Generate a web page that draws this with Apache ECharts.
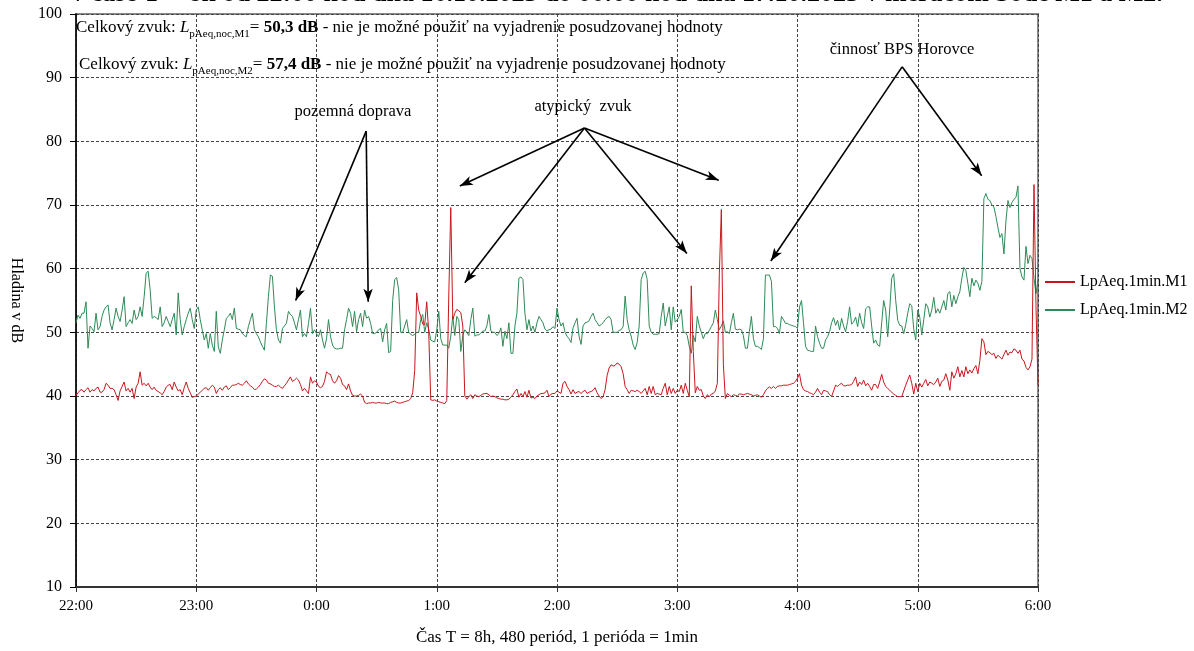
<!DOCTYPE html>
<html>
<head>
<meta charset="utf-8">
<script src="https://cdn.jsdelivr.net/npm/echarts@6/dist/echarts.min.js"></script>
<style>
html,body{margin:0;padding:0;background:#fff;overflow:hidden;}
#chart{width:1194px;height:651px;}
</style>
</head>
<body>
<div id="chart"></div>
<script>
// time tick labels (every 60 minutes)
const tickLabels = ['22:00','23:00','0:00','1:00','2:00','3:00','4:00','5:00','6:00'];
const seriesNames = ['LpAeq.1min.M1','LpAeq.1min.M2'];

// LpAeq.1min.M1 – one value per minute (0..480)
const M1 = [
40.1,40.5,40.9,41,40.6,41,41.3,40.6,41,40.8,
41.2,41.4,40.6,40.6,41,42,41.7,41.2,41.2,41,
40.2,39.3,40.8,41.5,42.2,40.8,41.2,40.6,41.2,39.6,
41.4,42,43.8,41.7,42,41.6,42,41.4,41,41.4,
40.9,40.7,40.5,40.2,40.7,41.4,41.7,41.8,41,42.2,
41.4,40.8,41,40.2,41.3,42.2,41.2,40.5,39.8,39.9,
40,40.3,40.6,40.9,41.2,41.3,40.9,41.3,41.7,41.4,
40.4,41,41.3,40.9,41.4,41.6,41,41.3,41.7,41.7,
41.8,42,41.8,41.7,42,42.4,41.9,41.6,41.4,41,
41.1,41.4,41.8,42.3,42.7,42.5,42,41.9,41.7,41.5,
41.5,41.7,41.4,41.2,41.6,42,42.5,43,42.3,42.5,
42.8,42.5,41.8,40.8,41.2,40.8,40.4,43,42,42.4,
42.2,41.5,41.3,41.5,42.3,43.8,43.5,43.4,42.4,42,
42.4,43.2,42.8,41.8,41.6,41,41.9,40.8,40.1,40,
40,40.1,40.3,40,39,38.8,38.9,38.9,39,38.9,
38.9,39,38.9,38.9,38.9,38.8,38.8,39,39.1,39.2,
39,38.9,38.9,39,39.1,39.2,39.3,39.6,40.5,44,
56.2,53.5,52.5,51.3,51.2,54.8,50,39.4,39.3,39.4,
39.2,39.1,39,38.9,38.8,39.3,55.7,69.6,52,53,
53.6,53.4,53.1,51,40,39.5,39.9,40.2,39.6,40.2,
40,39.9,40.1,40.3,40.4,40.4,40.2,39.9,40,39.9,
39.7,39.6,39.5,39.5,39.4,39.4,39.5,39.8,40.2,40.7,
41.1,39.8,40.4,39.9,40.7,39.8,40.9,39.7,39.8,39.6,
40,40.2,40.4,40.4,40.5,40.9,39.9,40.3,40.4,40.4,
40.8,40.6,40.4,42,42.3,41.5,41,40.3,41,40.4,
40.6,40.7,40.4,40.7,40.9,40.4,40.6,40.7,40.9,41.3,
40.5,40,39.6,39.9,41,43.2,44.4,44.9,44.7,44.8,
45.2,45,44.6,43.5,41.5,41,40.4,40.9,40.8,40.7,
40.9,40.7,40.4,40.8,41.2,40.2,41.5,40.4,41.5,40.2,
40.4,40.3,40.2,41.2,42,40.2,41.5,40.4,41.2,40.4,
40.9,40.7,41.7,40.4,42,40.9,39.9,57.3,47,40.5,
41.5,40.9,41,40,39.6,40.2,39.9,40.3,40.4,40.8,
42,59.2,69.3,45,39.6,40.4,40.1,39.9,40.2,40.1,
40,40.3,40.3,40.2,40.3,40.4,40.3,40.2,40,40.1,
40.2,40,39.8,40.2,40.8,41.2,41.4,41.2,41.5,41.2,
41.5,41.6,41.6,41.7,41.7,41.7,41.8,41.9,42,42.3,
42.8,43.5,41.7,41,40.8,40.7,40.5,40.4,40.2,40.6,
41.2,40.6,40.2,40.9,40.8,40.7,40.2,39.9,40.8,41.7,
41.5,41.8,42,41.6,41.6,41.7,41.7,41.8,42.3,43,
41.5,42.2,41.8,42.5,41.6,42,41.5,40.9,41.8,41.8,
41.2,42.2,43.4,42.2,41.5,41.2,40.9,40.6,40.3,40.1,
39.9,39.9,39.9,40.8,41.7,42.5,43.3,42,40.3,42,
40.7,42,41.4,42,42.6,41.6,42.2,42,41.8,42.2,
42.8,41.5,42.3,42.5,43.5,42.5,40.9,43.8,42.8,43.5,
44.6,43,44,43,44.6,43.5,44.1,43.6,44.3,44.8,
43.5,45.6,49,48.5,46.5,47,46.8,46.5,46.7,45.9,
46.4,46.1,45.8,46.5,47.2,46.4,46.9,46.8,47.4,47.2,
46.7,47.2,45.8,45.5,44.5,44.1,44.6,45.8,73.2,54,41.7
];

// LpAeq.1min.M2 – one value per minute (0..480)
const M2 = [
51.5,52.7,52.2,53,53,54.8,47.5,51,50.6,50.1,
53,50.4,50.9,52.5,53.5,54,54.3,51.5,50.4,52,
53.8,52.5,51.7,53.5,55.6,50.9,51.5,52,51.4,53.5,
52,52.5,54,52.5,55.6,59.3,59.6,56.7,52.2,52.5,
52.3,52,54,50.9,51.5,52.5,51.7,50.9,52,53,
49.6,56.2,52,49.6,50.9,52,53,53.8,52,50.6,
53.5,54,52,50.4,48.8,49.8,47.5,49.8,48,47,
53.3,47.7,46.7,48.8,50.4,52.2,52.5,53,52,53.8,
50.6,50.5,50.4,49.8,49.5,49.3,50.9,52,53,50.4,
49.8,49.3,48.5,47.8,47.2,51.4,55.6,59,58.8,54,
50.4,48.8,48.3,50.6,51,51.4,53.3,52.8,52.5,51.5,
50.4,52,53.5,49.3,49.8,49.3,51.4,53.8,49.8,50.4,
49.8,49.3,50.4,48.8,47.5,49,52,49.3,48,47.5,
47.4,47.4,47.5,47.5,50.4,52,53.8,53,50.9,53.3,
50.1,52,53,50.9,53.5,52.2,52.5,51.4,49.8,49.8,
50,50.4,50.6,48.5,50.4,51.4,46.8,47,55,58.3,
58.6,56.7,50,50,51,52,50,49.7,49.5,49.7,
50,50,52,52.8,50,51.5,50.5,48.8,48.6,48.5,
50.4,53.3,49,48,48,48,47.5,49.4,52.5,49.5,
52.5,52,47,49.5,50.4,50,49.5,52,53.8,49.4,
49.6,49.6,49.9,50.2,50.2,51,52.8,50.2,50,50,
49.5,49.8,50.7,47.8,50.2,49,51.5,46.7,46.7,51,
53,58.5,58.7,58.3,53,50.4,52,50.2,51,50,
51.5,52.5,52,51.5,50.5,50.2,50.4,50.5,50.9,50.6,
53.8,52,51,51.5,50,49.4,49,48.4,50.7,51.5,
52.2,49.4,48.1,51,51.5,51.6,51.8,52.5,53,52,
51.5,51,51.2,51.5,52,52.3,52.5,52,50,50,
50,50.3,50.4,50.9,55.7,52,50.4,49.4,48,47.3,
48.4,51,58.3,59.3,59.6,58.3,51,50,49.7,49.7,
49.7,49.8,52.5,54.6,51,52.5,54,50.4,54,51.6,
52,52.5,53.6,50,50,49.5,47.8,46.7,49.5,48.5,
52.5,51,50,49,49.8,49.8,50.3,50.9,51.5,53.5,
52,50.4,51,51.8,50,50.1,49.8,51.5,53,50.5,
50.4,50.5,50.4,49.5,47.5,47.5,50.1,52.5,49,47.8,
47.8,47.6,47.3,49,59,59,59,58,50.9,50.9,
50.6,49.8,52.5,52,51.4,51.4,51.2,51.1,51,50.9,
50.6,54,55,51.5,47.8,47.2,47.1,47,47,51,
49.3,48.3,47.5,47.5,48.8,49.3,50.1,51.5,52.3,51.1,
51.9,50.4,52.2,51,50.1,51.7,54,51.3,51.6,52.4,
50.9,53,51.5,50.6,53.7,54,54,51,48.3,48.8,
48,47.8,51.5,55,53.5,49.3,53.5,58.5,59.2,55,
51.9,51.1,51,49.8,51.2,53,54.5,54.2,50.5,48.8,
53.5,52.4,49.6,52,54.5,54,52.4,53.5,55.5,53,
53.7,53,54,55,53.5,56.1,56.4,54,55.8,54.5,
55.6,56.4,58.5,60.2,59.7,57.7,55.6,58.5,57.3,58.2,
57.7,56.6,58,71,71.8,70.9,70.7,70,69.7,68.2,
66.5,64.9,65.5,62.3,67.5,70.7,69.6,70.4,70.9,71.2,
73,60,58.7,58.2,63.5,60.8,62.1,61.6,58.5,56.1,58.2
];

// annotation arrows: [from (minute, dB), to (minute, dB)]
const arrows = [
  [[144.8, 81.6], [109.6, 55.0]],
  [[144.8, 81.6], [145.8, 54.8]],
  [[253.7, 82.1], [191.5, 73.0]],
  [[253.7, 82.1], [194.0, 57.8]],
  [[253.7, 82.1], [304.8, 62.4]],
  [[253.7, 82.1], [320.7, 73.9]],
  [[412.2, 91.7], [346.7, 61.2]],
  [[412.2, 91.7], [451.9, 74.6]]
];

const FONT = '"Liberation Serif", "DejaVu Serif", serif';
const chart = echarts.init(document.getElementById('chart'));

const richStyles = {
  n: {fontFamily: FONT, fontSize: 17, color: '#000', lineHeight: 24},
  i: {fontFamily: FONT, fontSize: 17, fontStyle: 'italic', color: '#000', lineHeight: 24},
  sub: {fontFamily: FONT, fontSize: 11, color: '#000', lineHeight: 11, verticalAlign: 'bottom'},
  b: {fontFamily: FONT, fontSize: 17, fontWeight: 'bold', color: '#000', lineHeight: 24}
};

chart.setOption({
  animation: false,
  backgroundColor: '#fff',
  grid: {left: 72.5, top: 14, width: 965.5, height: 578, show: true, borderColor: '#8a8a8a', borderWidth: 2},
  legend: {
    orient: 'vertical', left: 1040, top: 269, itemGap: 12, itemWidth: 30, itemHeight: 2,
    icon: 'rect', data: seriesNames,
    textStyle: {fontFamily: FONT, fontSize: 16, color: '#000'}
  },
  xAxis: {
    type: 'value', min: 0, max: 480, interval: 60,
    name: 'Čas T = 8h, 480 periód, 1 perióda = 1min',
    nameLocation: 'middle', nameGap: 42,
    nameTextStyle: {fontFamily: FONT, fontSize: 17, color: '#000'},
    axisLine: {show: true, lineStyle: {color: '#333', width: 2}},
    axisTick: {show: true, length: 5, lineStyle: {color: '#333'}},
    axisLabel: {fontFamily: FONT, fontSize: 15, color: '#000', margin: 12,
      formatter: v => tickLabels[Math.round(v / 60)]},
    splitLine: {show: true, lineStyle: {color: '#444', type: [3, 2], width: 1}}
  },
  yAxis: {
    type: 'value', min: 10, max: 100, interval: 10,
    name: 'Hladina v dB', nameLocation: 'middle', nameRotate: -90, nameGap: 52,
    nameTextStyle: {fontFamily: FONT, fontSize: 16, color: '#000'},
    axisLine: {show: true, lineStyle: {color: '#000', width: 1.5}},
    axisTick: {show: true, length: 6, lineStyle: {color: '#000'}},
    axisLabel: {fontFamily: FONT, fontSize: 16, color: '#000', margin: 14},
    splitLine: {show: true, lineStyle: {color: '#444', type: [3, 2], width: 1}}
  },
  series: [
    {
      name: seriesNames[0], type: 'line', showSymbol: false, symbol: 'none',
      data: M1.map((v, i) => [i, v]),
      lineStyle: {color: '#c8161d', width: 1}, itemStyle: {color: '#c8161d'},
      z: 3
    },
    {
      name: seriesNames[1], type: 'line', showSymbol: false, symbol: 'none',
      data: M2.map((v, i) => [i, v]),
      lineStyle: {color: '#2e8b57', width: 1}, itemStyle: {color: '#2e8b57'},
      z: 2,
      markLine: {
        silent: true, animation: false,
        symbol: ['none', 'arrow'], symbolSize: [7, 13],
        label: {show: false},
        lineStyle: {color: '#000', width: 1.6, type: 'solid'},
        emphasis: {disabled: true},
        data: arrows.map(a => [{coord: a[0]}, {coord: a[1]}])
      }
    }
  ],
  graphic: [
    {type: 'text', x: 617, y: -19, z: 10,
      style: {text: 'v čase T = 8h od 22:00 hod dňa 16.10.2025 do 06:00 hod dňa 17.10.2025 v meracom bode M1 a M2.',
        fontFamily: FONT, fontSize: 26, fontWeight: 'bold', fill: '#000', align: 'center', verticalAlign: 'top'}},
    {type: 'text', x: 76, y: 16, z: 10,
      style: {text: '{n|Celkový zvuk: }{i|L}{sub|pAeq,noc,M1}{n|= }{b|50,3 dB}{n| - nie je možné použiť na vyjadrenie posudzovanej hodnoty}', rich: richStyles}},
    {type: 'text', x: 79, y: 53, z: 10,
      style: {text: '{n|Celkový zvuk: }{i|L}{sub|pAeq,noc,M2}{n|= }{b|57,4 dB}{n| - nie je možné použiť na vyjadrenie posudzovanej hodnoty}', rich: richStyles}},
    {type: 'text', x: 353, y: 112, z: 10,
      style: {text: 'pozemná doprava', fontFamily: FONT, fontSize: 16.5, fill: '#000', align: 'center', verticalAlign: 'middle'}},
    {type: 'text', x: 583, y: 107, z: 10,
      style: {text: 'atypický  zvuk', fontFamily: FONT, fontSize: 16.5, fill: '#000', align: 'center', verticalAlign: 'middle'}},
    {type: 'text', x: 902, y: 50, z: 10,
      style: {text: 'činnosť BPS Horovce', fontFamily: FONT, fontSize: 16.5, fill: '#000', align: 'center', verticalAlign: 'middle'}}
  ]
});
</script>
</body>
</html>
